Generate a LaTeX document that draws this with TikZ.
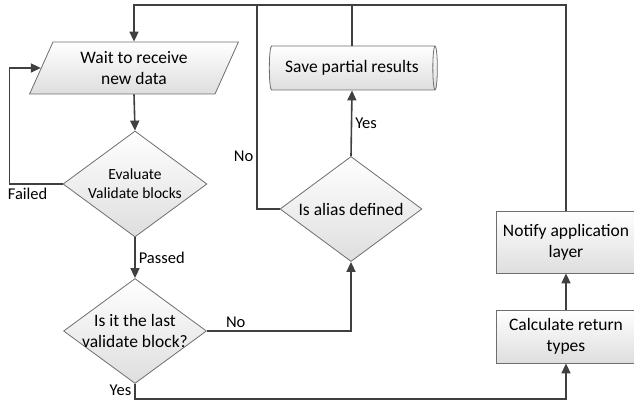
\documentclass[tikz,border=0pt]{standalone}
\usepackage{fontspec}
\setmainfont{Carlito}
\usetikzlibrary{shapes.geometric,arrows.meta}
\definecolor{linegray}{HTML}{404040}
\definecolor{edgegray}{HTML}{6E6E6E}

\begin{document}
\begin{tikzpicture}[x=1pt, y=1pt,
  box/.style={draw=edgegray, line width=0.8pt, top color=white,
    bottom color=black!13, inner sep=0pt, align=center,
    font=\fontsize{17.5}{21}\selectfont},
  choice/.style={box, diamond, inner xsep=-30pt, inner ysep=-20pt},
  flow/.style={draw=linegray, line width=1.6pt,
    -{Triangle[length=10pt, width=9pt]}},
  line/.style={draw=linegray, line width=1.6pt},
  lbl/.style={font=\fontsize{16.5}{19}\selectfont, inner sep=3pt}]
  \useasboundingbox (0, 0) rectangle (634, 402);

  \node[box, trapezium, trapezium left angle=65, trapezium right angle=115,
    trapezium stretches=true, minimum width=209, minimum height=52]
    (wait) at (134, 334) {Wait to receive\\new data};

  \node[choice, minimum width=144, minimum height=106,
    font=\fontsize{15.5}{19}\selectfont]
    (eval) at (135, 218) {Evaluate\\Validate blocks};

  \node[choice, minimum width=143, minimum height=105]
    (last) at (135, 71) {Is it the last\\validate block?};

  \node[choice, minimum width=142, minimum height=105]
    (alias) at (351, 193) {Is alias defined};

  \node[box, cylinder, shape aspect=0.3, minimum width=44, minimum height=168]
    (save) at (352, 334) {Save partial results};

  \node[box, rectangle, minimum width=140, minimum height=62]
    (notify) at (566, 160) {Notify application\\layer};

  \node[box, rectangle, minimum width=140, minimum height=53]
    (calc) at (566, 65.5) {Calculate return\\types};

  \coordinate (topr) at (566, 397);
  \coordinate (nobend) at (257, 397);

  \draw[flow] (notify.north) -- (topr) -| (wait.north);
  \draw[line] (save.north) -- (save.north |- topr);
  \draw[line] (alias.west) -| node[lbl, left, pos=0.63] {No} (nobend);
  \draw[flow] (wait.south) -- (eval.north);
  \draw[flow] (eval.west) -- node[lbl, below, pos=0.66] {Failed} ++(-53, 0)
    |- (wait.west);
  \draw[flow] (eval.south) -- node[lbl, right] {Passed} (last.north);
  \draw[flow] (last.east) -| node[lbl, above, pos=0.1] {No} (alias.south);
  \draw[flow] (last.south) -- ++(0, -15) node[lbl, left, pos=0.4] {Yes}
    -| (calc.south);
  \draw[flow] (calc.north) -- (notify.south);
  \draw[flow] (alias.north) -- node[lbl, right] {Yes} (save.south);

\end{tikzpicture}
\end{document}
